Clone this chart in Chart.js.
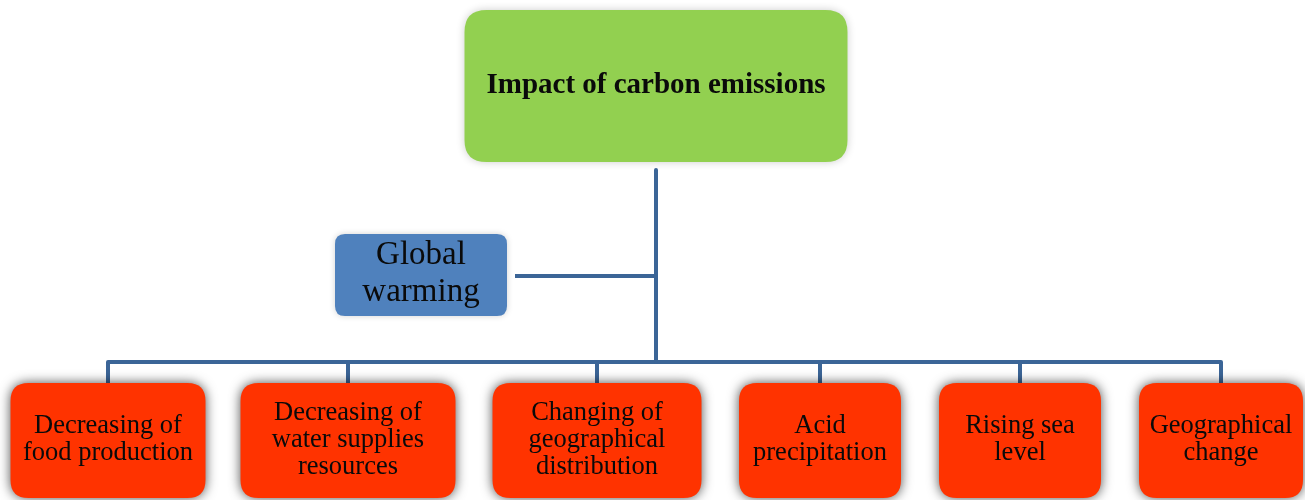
<!DOCTYPE html>
<html>
<head>
<meta charset="utf-8">
<script src="https://cdn.jsdelivr.net/npm/chart.js@4"></script>
<style>
html,body{margin:0;padding:0;background:#fff;}
#c{display:block;}
</style>
</head>
<body>
<canvas id="c" width="1305" height="500"></canvas>
<script>
// ---- data ----
const rootLabel = ["Impact of carbon emissions"];
const sideLabel = ["Global", "warming"];
const childLabels = [
  ["Decreasing of", "food production"],
  ["Decreasing of", "water supplies", "resources"],
  ["Changing of", "geographical", "distribution"],
  ["Acid", "precipitation"],
  ["Rising sea", "level"],
  ["Geographical", "change"]
];
const childCenters = [108, 348, 597, 820, 1020, 1221];

// ---- layout (diagram geometry in value units of the scales) ----
const root = {cx: 656, y0: 10, y1: 162, w: 383};
const side = {x0: 335, x1: 507, y0: 234, y1: 316};
const childWidths = [195, 215, 209, 162, 162, 164];
const childTop = 383, childBottom = 498, busY = 362, trunkX = 656, sideY = 276;

const lineColor = '#3b6597';
const connectorSets = [];
connectorSets.push({data: [{x: trunkX, y: 170}, {x: trunkX, y: busY}]});
connectorSets.push({data: [{x: side.x1 + 8, y: sideY}, {x: trunkX, y: sideY}]});
childCenters.forEach(cx => {
  connectorSets.push({data: [{x: cx, y: childTop}, {x: cx, y: busY}, {x: trunkX, y: busY}]});
});
const datasets = connectorSets.map(d => ({
  type: 'line', data: d.data, borderColor: lineColor, borderWidth: 4,
  pointRadius: 0, showLine: true, fill: false, tension: 0,
  borderJoinStyle: 'round', borderCapStyle: 'butt'
}));

function roundRect(ctx, x, y, w, h, r) {
  ctx.beginPath();
  ctx.moveTo(x + r, y);
  ctx.lineTo(x + w - r, y);
  ctx.quadraticCurveTo(x + w, y, x + w, y + r);
  ctx.lineTo(x + w, y + h - r);
  ctx.quadraticCurveTo(x + w, y + h, x + w - r, y + h);
  ctx.lineTo(x + r, y + h);
  ctx.quadraticCurveTo(x, y + h, x, y + h - r);
  ctx.lineTo(x, y + r);
  ctx.quadraticCurveTo(x, y, x + r, y);
  ctx.closePath();
}

function drawBox(ctx, xs, ys, x0, x1, y0, y1, r, fill, shadow, blur) {
  const px0 = xs.getPixelForValue(x0), px1 = xs.getPixelForValue(x1);
  const py0 = ys.getPixelForValue(y0), py1 = ys.getPixelForValue(y1);
  ctx.save();
  ctx.shadowColor = shadow;
  ctx.shadowBlur = blur;
  ctx.shadowOffsetX = 0;
  ctx.shadowOffsetY = 0;
  roundRect(ctx, px0, py0, px1 - px0, py1 - py0, r);
  ctx.fillStyle = fill;
  ctx.fill();
  ctx.restore();
}

function drawLines(ctx, xs, ys, cx, cy, lines, font, lh) {
  ctx.save();
  ctx.font = font;
  ctx.fillStyle = '#0a0a0a';
  ctx.textAlign = 'center';
  ctx.textBaseline = 'middle';
  const px = xs.getPixelForValue(cx);
  const pcy = ys.getPixelForValue(cy);
  const start = pcy - (lines.length - 1) * lh / 2;
  lines.forEach((t, i) => ctx.fillText(t, px, start + i * lh));
  ctx.restore();
}

const boxesPlugin = {
  id: 'boxes',
  afterDatasetsDraw(chart) {
    const ctx = chart.ctx, xs = chart.scales.x, ys = chart.scales.y;
    // root
    drawBox(ctx, xs, ys, root.cx - root.w / 2, root.cx + root.w / 2, root.y0, root.y1, 22, '#92d050', 'rgba(0,0,0,0.2)', 8);
    drawLines(ctx, xs, ys, root.cx, 86, rootLabel, 'bold 29px "Liberation Serif"', 30);
    // side
    drawBox(ctx, xs, ys, side.x0, side.x1, side.y0, side.y1, 10, '#4f81bd', 'rgba(0,0,0,0.18)', 6);
    drawLines(ctx, xs, ys, (side.x0 + side.x1) / 2, 274, sideLabel, '33px "Liberation Serif"', 37);
    // children
    childCenters.forEach((cx, i) => {
      const w = childWidths[i];
      drawBox(ctx, xs, ys, cx - w / 2, cx + w / 2, childTop, childBottom, 18, '#ff3300', 'rgba(0,0,0,0.7)', 12);
      drawLines(ctx, xs, ys, cx, 440, childLabels[i], '26.5px "Liberation Serif"', 27);
    });
  }
};

new Chart(document.getElementById('c'), {
  type: 'scatter',
  data: {datasets},
  options: {
    responsive: false,
    animation: false,
    layout: {padding: 0},
    plugins: {legend: {display: false}, tooltip: {enabled: false}},
    scales: {
      x: {type: 'linear', min: 0, max: 1305, display: false},
      y: {type: 'linear', min: 0, max: 500, reverse: true, display: false}
    }
  },
  plugins: [boxesPlugin]
});
</script>
</body>
</html>
